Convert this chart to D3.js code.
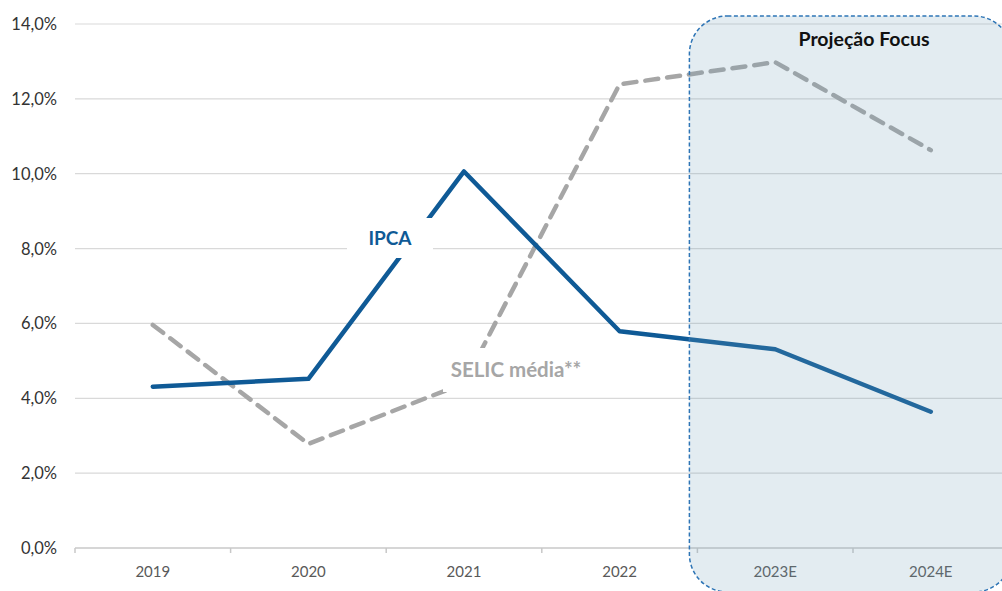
<!DOCTYPE html>
<html>
<head>
<meta charset="utf-8">
<script src="https://cdn.jsdelivr.net/npm/d3@7"></script>
<style>
  html, body { margin: 0; padding: 0; background: #fff; }
  svg { display: block; font-family: Lato, "Open Sans", sans-serif; }
</style>
</head>
<body>
<div id="chart"></div>
<script>
const categories = ["2019", "2020", "2021", "2022", "2023E", "2024E"];
const ipca = [4.31, 4.52, 10.06, 5.79, 5.31, 3.64];
const selic = [5.96, 2.78, 4.40, 12.39, 12.98, 10.63];
const yTicks = [0, 2, 4, 6, 8, 10, 12, 14];
const projected = ["2023E", "2024E"];

const width = 1002, height = 591;
const fmt = d => d.toFixed(1).replace(".", ",") + "%";

const svg = d3.select("#chart").append("svg")
  .attr("width", width)
  .attr("height", height);

const x = d3.scaleBand().domain(categories).range([75, 1008.6]);
const y = d3.scaleLinear().domain([0, 14]).range([548, 24]);

// gridlines
svg.append("g").selectAll("line")
  .data(yTicks.filter(t => t > 0))
  .join("line")
  .attr("x1", 75).attr("x2", width)
  .attr("y1", d => y(d)).attr("y2", d => y(d))
  .attr("stroke", "#d9d9d9")
  .attr("stroke-width", 1.2);

// y labels
svg.append("g").selectAll("text")
  .data(yTicks)
  .join("text")
  .attr("x", 57)
  .attr("y", d => y(d) + 6)
  .attr("text-anchor", "end")
  .attr("font-size", 16.5)
  .attr("fill", "#333")
  .text(fmt);

// x axis
const xAxis = d3.axisBottom(x).tickSize(0).tickPadding(0);
const xg = svg.append("g").attr("transform", `translate(0,${y(0)})`).call(xAxis);
xg.select(".domain").remove();
xg.selectAll("text")
  .attr("y", 29)
  .attr("dy", 0)
  .attr("font-family", "Lato, 'Open Sans', sans-serif")
  .attr("font-size", 15)
  .attr("fill", "#595959");
svg.append("line")
  .attr("x1", 75).attr("x2", width)
  .attr("y1", y(0)).attr("y2", y(0))
  .attr("stroke", "#c8c8c8").attr("stroke-width", 1.5);
svg.append("g").selectAll("line")
  .data(categories.concat(["end"]))
  .join("line")
  .attr("x1", (d, i) => x.range()[0] + i * x.step())
  .attr("x2", (d, i) => x.range()[0] + i * x.step())
  .attr("y1", y(0)).attr("y2", y(0) + 5)
  .attr("stroke", "#c8c8c8").attr("stroke-width", 1.5);

const line = d3.line()
  .x((d, i) => x(categories[i]) + x.bandwidth() / 2)
  .y(d => y(d));

svg.append("path")
  .datum(selic)
  .attr("d", line)
  .attr("fill", "none")
  .attr("stroke", "#a6a6a6")
  .attr("stroke-width", 4.5)
  .attr("stroke-dasharray", "13,9")
  .attr("stroke-linecap", "round");

svg.append("path")
  .datum(ipca)
  .attr("d", line)
  .attr("fill", "none")
  .attr("stroke", "#0f5a96")
  .attr("stroke-width", 4.5)
  .attr("stroke-linejoin", "round")
  .attr("stroke-linecap", "round");

// series labels with white boxes
function seriesLabel(text, cx, cy, w, h, color, size) {
  svg.append("rect")
    .attr("x", cx - w / 2).attr("y", cy - h / 2)
    .attr("width", w).attr("height", h)
    .attr("fill", "#fff");
  svg.append("text")
    .attr("x", cx).attr("y", cy + 7)
    .attr("text-anchor", "middle")
    .attr("font-size", size)
    .attr("font-weight", "bold")
    .attr("fill", color)
    .text(text);
}
seriesLabel("IPCA", 390, 238, 86, 40, "#0f5a96", 19);
seriesLabel("SELIC média**", 516, 370, 146, 44, "#a6a6a6", 20.5);

// projection area (runs past the right edge)
const px0 = x(projected[0]) - 8;
svg.append("rect")
  .attr("x", px0).attr("y", 16)
  .attr("width", 1012 - px0).attr("height", 576)
  .attr("rx", 38).attr("ry", 38)
  .attr("fill", "rgb(115,160,185)")
  .attr("fill-opacity", 0.2)
  .attr("stroke", "#2e75b6")
  .attr("stroke-width", 1.5)
  .attr("stroke-dasharray", "4,2.5");

svg.append("text")
  .attr("x", 864).attr("y", 46)
  .attr("text-anchor", "middle")
  .attr("font-size", 19.5)
  .attr("font-weight", "bold")
  .attr("fill", "#111")
  .text("Projeção Focus");
</script>
</body>
</html>
